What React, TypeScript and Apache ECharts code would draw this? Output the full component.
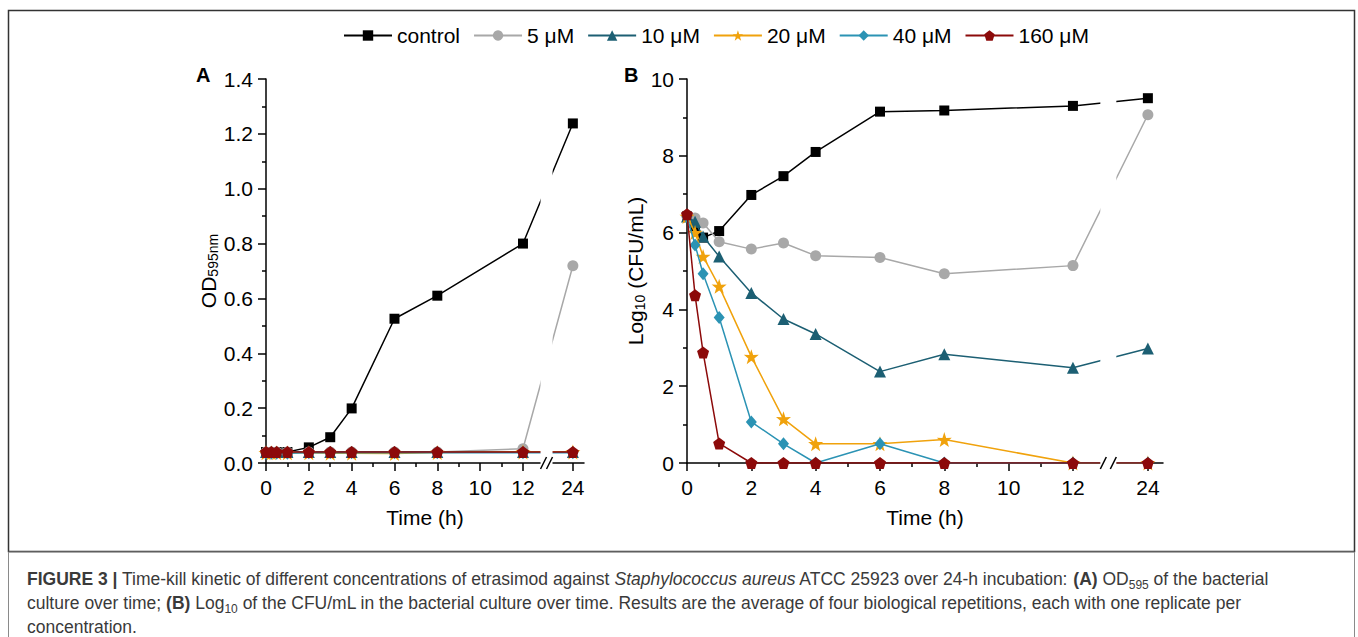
import React, { useEffect, useRef } from "react";
import * as echarts from "echarts";

const FONT = "'Liberation Sans', Arial, Helvetica, sans-serif";

// Sampling times (h)
const TIMES = [0, 0.25, 0.5, 1, 2, 3, 4, 6, 8, 12, 24];
const X_TICK_TIMES = [0, 2, 4, 6, 8, 10, 12, 24];
const X_MINOR_TIMES = [1, 3, 5, 7, 9, 11];
const SERIES_NAMES = ["control", "5 μM", "10 μM", "20 μM", "40 μM", "160 μM"];

// Panel A: OD595nm
const OD_CONTROL = [0.04, 0.04, 0.04, 0.04, 0.057, 0.094, 0.199, 0.526, 0.61, 0.8, 1.238];
const OD_5 = [0.04, 0.04, 0.04, 0.04, 0.04, 0.04, 0.04, 0.04, 0.04, 0.052, 0.719];
const OD_10 = [0.04, 0.04, 0.04, 0.04, 0.04, 0.04, 0.04, 0.04, 0.04, 0.04, 0.04];
const OD_20 = [0.037, 0.037, 0.037, 0.037, 0.037, 0.036, 0.036, 0.035, 0.038, 0.04, 0.04];
const OD_40 = [0.036, 0.036, 0.036, 0.036, 0.037, 0.037, 0.037, 0.037, 0.037, 0.037, 0.037];
const OD_160 = [0.04, 0.04, 0.04, 0.04, 0.04, 0.04, 0.04, 0.04, 0.04, 0.04, 0.04];

// Panel B: Log10 (CFU/mL)
const LOG_CONTROL = [6.42, 6.15, 5.87, 6.04, 6.98, 7.47, 8.1, 9.15, 9.18, 9.3, 9.5];
const LOG_5 = [6.42, 6.38, 6.25, 5.76, 5.57, 5.73, 5.4, 5.35, 4.93, 5.14, 9.07];
const LOG_10 = [6.42, 6.28, 5.9, 5.38, 4.43, 3.75, 3.36, 2.38, 2.83, 2.48, 2.98];
const LOG_20 = [6.42, 6.0, 5.38, 4.6, 2.77, 1.15, 0.5, 0.5, 0.61, 0, 0];
const LOG_40 = [6.42, 5.68, 4.93, 3.79, 1.07, 0.5, 0, 0.5, 0, 0, 0];
const LOG_160 = [6.48, 4.37, 2.88, 0.51, 0, 0, 0, 0, 0, 0, 0];

const OD_DATA = [OD_CONTROL, OD_5, OD_10, OD_20, OD_40, OD_160];
const LOG_DATA = [LOG_CONTROL, LOG_5, LOG_10, LOG_20, LOG_40, LOG_160];

const COLORS = ["#000000", "#a8a8a8", "#1c5f73", "#f0a20c", "#2b93b4", "#8c0a0a"];
const STAR = "path://M50,0 L61.8,35.1 L97.6,34.5 L69.1,56.7 L79.4,90.5 L50,70 L20.6,90.5 L30.9,56.7 L2.4,34.5 L38.2,35.1 Z";
const PENTAGON = "path://M50,0 L97.6,34.5 L79.4,90.5 L20.6,90.5 L2.4,34.5 Z";
const SYMBOLS = ["rect", "circle", "triangle", STAR, "diamond", PENTAGON];
const SYMBOL_SIZES: any[] = [10, 11, 12, 15, [11, 13], 12];

// broken time axis: 12–24 h compressed
const POS_24 = 14.33;
const BREAK_AT = 13.1;
const xPos = (t: number) => (t <= 12 ? t : 12 + ((t - 12) * (POS_24 - 12)) / 12);
const labelFor = (v: number) => {
  const i = X_TICK_TIMES.findIndex((t) => Math.abs(xPos(t) - v) < 1e-6);
  return i >= 0 ? String(X_TICK_TIMES[i]) : "";
};

const CAPTION =
  "{b|FIGURE 3 |} Time-kill kinetic of different concentrations of etrasimod against {i|Staphylococcus aureus} ATCC 25923 over 24-h incubation: {b|(A)} OD{s|595} of the bacterial\n" +
  "culture over time; {b|(B)} Log{s|10} of the CFU/mL in the bacterial culture over time. Results are the average of four biological repetitions, each with one replicate per\n" +
  "concentration.";

const axisFont = { fontSize: 21, color: "#000", fontFamily: FONT };

function mainX(gridIndex: number, max: number) {
  return {
    type: "value",
    gridIndex,
    min: 0,
    max,
    position: "bottom",
    name: "Time (h)",
    nameLocation: "middle",
    nameGap: 44,
    nameTextStyle: axisFont,
    axisLine: { show: true, onZero: false, lineStyle: { color: "#000", width: 1.5 } },
    axisTick: {
      show: true,
      length: 8,
      lineStyle: { color: "#000", width: 1.5 },
      customValues: X_TICK_TIMES.map(xPos),
    },
    axisLabel: {
      show: true,
      customValues: X_TICK_TIMES.map(xPos),
      formatter: labelFor,
      margin: 14,
      ...axisFont,
    },
    splitLine: { show: false },
  };
}

function minorX(gridIndex: number, max: number) {
  return {
    type: "value",
    gridIndex,
    min: 0,
    max,
    position: "bottom",
    offset: 0,
    axisLine: { show: false, onZero: false },
    axisTick: {
      show: true,
      length: 4,
      lineStyle: { color: "#000", width: 1.5 },
      customValues: X_MINOR_TIMES.map(xPos),
    },
    axisLabel: { show: false },
    splitLine: { show: false },
  };
}

function yAxis(gridIndex: number, max: number, interval: number, name: string, nameGap: number, fmt: (v: number) => string) {
  return {
    type: "value",
    gridIndex,
    min: 0,
    max,
    interval,
    name,
    nameLocation: "middle",
    nameGap,
    nameTextStyle: {
      ...axisFont,
      rich: {
        m: { fontSize: 21, fontFamily: FONT, color: "#000", lineHeight: 22, verticalAlign: "top" },
        s: { fontSize: 14, fontFamily: FONT, color: "#000", lineHeight: 13, verticalAlign: "bottom" },
      },
    },
    axisLine: { show: true, onZero: false, lineStyle: { color: "#000", width: 1.5 } },
    axisTick: { show: true, length: 8, lineStyle: { color: "#000", width: 1.5 } },
    minorTick: { show: true, splitNumber: 2, length: 4, lineStyle: { color: "#000", width: 1.5 } },
    axisLabel: { formatter: fmt, margin: 13, ...axisFont },
    splitLine: { show: false },
    minorSplitLine: { show: false },
  };
}

function makeSeries(data: number[][], axisIndex: number) {
  return SERIES_NAMES.map((name, k) => ({
    type: "line",
    name,
    xAxisIndex: axisIndex,
    yAxisIndex: axisIndex,
    data: TIMES.map((t, i) => [xPos(t), data[k][i]]),
    symbol: SYMBOLS[k],
    symbolSize: SYMBOL_SIZES[k],
    showSymbol: true,
    lineStyle: { color: COLORS[k], width: 1.5 },
    itemStyle: { color: COLORS[k] },
    z: 2 + k,
  }));
}

export default function App() {
  const ref = useRef<HTMLDivElement>(null);
  useEffect(() => {
    if (!ref.current) return;
    const chart = echarts.init(ref.current, undefined, { renderer: "svg" });
    const option: any = {
      animation: false,
      backgroundColor: "#ffffff",
      legend: {
        data: SERIES_NAMES,
        left: 338,
        top: 20,
        itemWidth: 48,
        itemHeight: 13,
        itemGap: 13,
        textStyle: { fontSize: 21, color: "#000", fontFamily: FONT },
      },
      grid: [
        { left: 266, top: 79, width: 318, height: 384, containLabel: false },
        { left: 687, top: 79, width: 476, height: 384, containLabel: false },
      ],
      xAxis: [mainX(0, 14.85), mainX(1, 14.8), minorX(0, 14.85), minorX(1, 14.8)],
      yAxis: [
        yAxis(0, 1.4, 0.2, "{m|OD}{s|595nm}", 42, (v) => v.toFixed(1)),
        yAxis(1, 10, 2, "{m|Log}{s|10}{m| (CFU/mL)}", 33, (v) => String(v)),
      ],
      series: [...makeSeries(OD_DATA, 0), ...makeSeries(LOG_DATA, 1)],
    };
    chart.setOption(option);

    const els: any[] = [
      {
        type: "rect",
        shape: { x: 8.5, y: 10.5, width: 1346, height: 541 },
        style: { fill: "none", stroke: "#333", lineWidth: 1.5 },
        z: 100,
      },
      {
        type: "rect",
        shape: { x: 8.5, y: 552, width: 1346, height: 100 },
        style: { fill: "none", stroke: "#8a8a8a", lineWidth: 1 },
        z: 100,
      },
      {
        type: "text",
        x: 196,
        y: 65,
        style: { text: "A", fontSize: 20, fontWeight: "bold", fill: "#000", fontFamily: FONT },
        z: 100,
      },
      {
        type: "text",
        x: 624,
        y: 65,
        style: { text: "B", fontSize: 20, fontWeight: "bold", fill: "#000", fontFamily: FONT },
        z: 100,
      },
      {
        type: "text",
        x: 27,
        y: 567,
        style: {
          text: CAPTION,
          fontSize: 17.5,
          lineHeight: 24,
          fill: "#3a3a3a",
          fontFamily: FONT,
          rich: {
            b: { fontSize: 17.5, lineHeight: 24, fontWeight: "bold", fill: "#3a3a3a", fontFamily: FONT },
            i: { fontSize: 17.5, lineHeight: 24, fontStyle: "italic", fill: "#3a3a3a", fontFamily: FONT },
            s: { fontSize: 12, lineHeight: 14, verticalAlign: "bottom", fill: "#3a3a3a", fontFamily: FONT },
          },
        },
        z: 100,
      },
    ];

    const breaks = [
      { seriesIndex: 0, ymax: 1.4, half: 6, sep: 6 },
      { seriesIndex: 6, ymax: 10, half: 8, sep: 10 },
    ];
    breaks.forEach((b) => {
      const p0 = chart.convertToPixel({ seriesIndex: b.seriesIndex }, [BREAK_AT, 0]) as number[];
      const p1 = chart.convertToPixel({ seriesIndex: b.seriesIndex }, [BREAK_AT, b.ymax]) as number[];
      const cx = p0[0];
      const by = p0[1];
      els.push({
        type: "rect",
        shape: { x: cx - b.half, y: p1[1] - 2, width: b.half * 2, height: by - p1[1] + 4 },
        style: { fill: "#fff", stroke: "none" },
        z: 100,
      });
      [-b.sep / 2, b.sep / 2].forEach((dx) => {
        els.push({
          type: "line",
          shape: { x1: cx + dx - 3, y1: by + 6, x2: cx + dx + 3, y2: by - 6 },
          style: { stroke: "#000", lineWidth: 1.5 },
          z: 101,
        });
      });
    });

    chart.setOption({ graphic: { elements: els } });

    return () => chart.dispose();
  }, []);
  return (
    <div
      ref={ref}
      style={{ position: "fixed", left: 0, top: 0, width: 1358, height: 637 }}
    />
  );
}
